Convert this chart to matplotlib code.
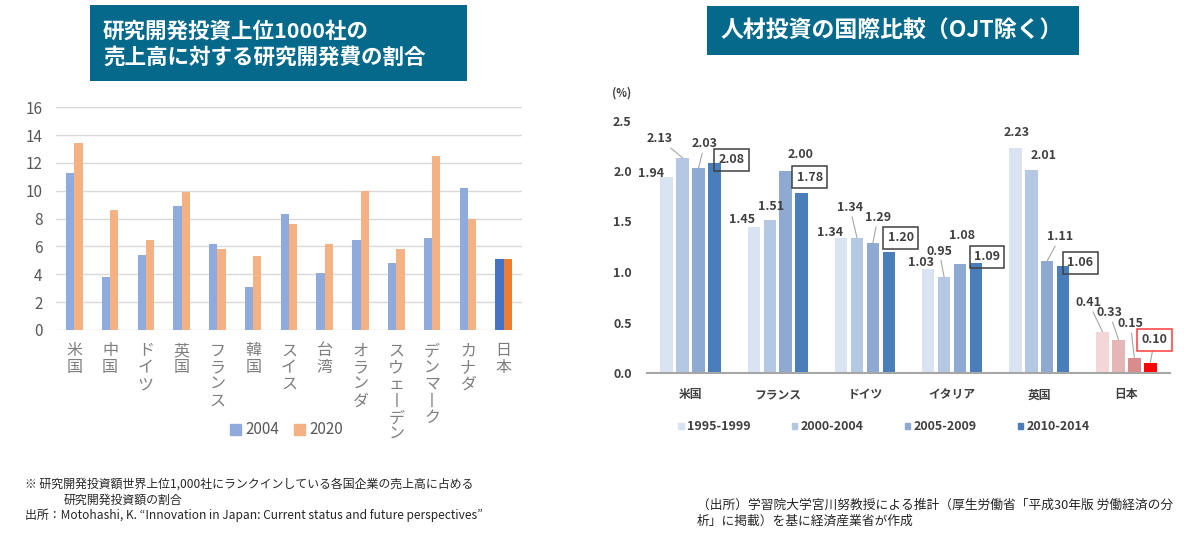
import numpy as np
import matplotlib.pyplot as plt
from matplotlib.patches import Rectangle, Patch

plt.rcParams['font.family'] = ['Noto Sans CJK JP', 'DejaVu Sans']

# left chart data
rd_countries = ['米国', '中国', 'ドイツ', '英国', 'フランス', '韓国', 'スイス', '台湾',
                'オランダ', 'スウェーデン', 'デンマーク', 'カナダ', '日本']
rd_2004 = [11.3, 3.8, 5.4, 8.9, 6.2, 3.1, 8.3, 4.1, 6.5, 4.8, 6.6, 10.2, 5.1]
rd_2020 = [13.4, 8.6, 6.5, 9.9, 5.8, 5.3, 7.6, 6.2, 10.0, 5.8, 12.5, 8.0, 5.1]
rd_years = ['2004', '2020']

# right chart data
hr_countries = ['米国', 'フランス', 'ドイツ', 'イタリア', '英国', '日本']
hr_periods = ['1995-1999', '2000-2004', '2005-2009', '2010-2014']
hr_values = [
    [1.94, 1.45, 1.34, 1.03, 2.23, 0.41],
    [2.13, 1.51, 1.34, 0.95, 2.01, 0.33],
    [2.03, 2.00, 1.29, 1.08, 1.11, 0.15],
    [2.08, 1.78, 1.20, 1.09, 1.06, 0.10],
]

W, H = 1200, 536
fig = plt.figure(figsize=(12, 5.36), dpi=100)

def fx(px):
    return px / W

def fy(py):
    return 1 - py / H

TEAL = '#05698C'
# title boxes
fig.patches.append(Rectangle((fx(90), fy(80.5)), fx(377), 75 / H, transform=fig.transFigure,
                             fc=TEAL, ec='none', zorder=0))
fig.text(fx(103), fy(31), '研究開発投資上位1000社の', color='white', fontsize=15.5,
         fontweight='bold', va='center', ha='left')
fig.text(fx(103), fy(57), '売上高に対する研究開発費の割合', color='white', fontsize=15.5,
         fontweight='bold', va='center', ha='left')
fig.patches.append(Rectangle((fx(707), fy(55)), fx(372), 48.5 / H, transform=fig.transFigure,
                             fc=TEAL, ec='none', zorder=0))
fig.text(fx(720), fy(31), '人材投資の国際比較（OJT除く）', color='white', fontsize=16.5,
         fontweight='bold', va='center', ha='left')

# ---- left chart ----
ax1 = fig.add_axes([fx(56.4), fy(330), fx(521.5 - 56.4), (330 - 107.3) / H])
x = np.arange(len(rd_countries))
bw = 0.23
c04 = ['#8FAADC'] * 12 + ['#4472C4']
c20 = ['#F4B183'] * 12 + ['#ED7D31']
ax1.bar(x - bw / 2, rd_2004, bw, color=c04, zorder=2)
ax1.bar(x + bw / 2, rd_2020, bw, color=c20, zorder=2)
ax1.set_xlim(-0.5, len(rd_countries) - 0.5)
ax1.set_ylim(0, 16)
ax1.set_yticks(range(0, 17, 2))
ax1.yaxis.grid(True, color='#D9D9D9', lw=1, zorder=0)
ax1.set_axisbelow(True)
for s in ax1.spines.values():
    s.set_visible(False)
ax1.tick_params(axis='y', length=0, labelsize=11, labelcolor='#595959', pad=10)
# vertical writing: long vowel mark becomes a vertical stroke
vert = ['\n'.join('丨' if ch == 'ー' else ch for ch in name) for name in rd_countries]
ax1.set_xticks(x)
ax1.set_xticklabels(vert, fontsize=11.5, color='#7F7F7F', linespacing=0.98, va='top')
ax1.tick_params(axis='x', length=0, pad=9)
ax1.legend(handles=[Patch(color='#8FAADC'), Patch(color='#F4B183')], labels=rd_years,
           loc='center left', bbox_to_anchor=(fx(230), fy(430)), bbox_transform=fig.transFigure,
           ncol=2, frameon=False, fontsize=11, labelcolor='#595959', handlelength=0.7,
           handleheight=0.7, handletextpad=0.3, columnspacing=1.0, borderaxespad=0, borderpad=0)

fig.text(fx(25), fy(484), '※ 研究開発投資額世界上位1,000社にランクインしている各国企業の売上高に占める',
         fontsize=8.6, color='#262626', va='center')
fig.text(fx(64), fy(500), '研究開発投資額の割合', fontsize=8.6, color='#262626', va='center')
fig.text(fx(25), fy(515),
         '出所：Motohashi, K. \u201cInnovation in Japan: Current status and future perspectives\u201d',
         fontsize=8.6, color='#262626', va='center')

# ---- right chart ----
ax2 = fig.add_axes([fx(647), fy(373), fx(1170 - 647), (373 - 120.5) / H])
blues = ['#DAE3F1', '#B4C7E3', '#8FAAD2', '#4A7EBB']
reds = ['#F3D6D6', '#E6B5B5', '#D98C8C', '#FF0000']
xs = np.arange(len(hr_countries))
step = 0.183
width = 0.143
# label offsets in pixels (dx, dy) from bar top; boxed and leader-line flags
offs = [
    [(-16, 4), (-12, 7), (-11, 5), (-7, 6), (1, 15), (-14, 29)],
    [(-23, 19), (1, 14), (-7, 30), (-5, 26), (12, 14), (-9, 27)],
    [(6, 24), (15, 16), (5, 25), (2, 28), (13, 24), (-4, 34)],
    [(17, 3), (8, 16), (12, 14), (11, 6), (17, 3), (4, 23)],
]
leader = [
    [False, False, False, False, False, True],
    [True, False, True, True, False, True],
    [True, False, True, False, True, True],
    [False, False, False, False, False, True],
]
for i, vals in enumerate(hr_values):
    cols = [blues[i]] * 5 + [reds[i]]
    pos = xs + (i - 1.5) * step
    ax2.bar(pos, vals, width, color=cols, zorder=2)
    for j, v in enumerate(vals):
        dx, dy = offs[i][j]
        kw = {}
        if i == 3:
            ec = '#FF3B3B' if j == 5 else '#404040'
            kw['bbox'] = dict(boxstyle='square,pad=0.35', fc='none', ec=ec, lw=1.1)
        if leader[i][j]:
            kw['arrowprops'] = dict(arrowstyle='-', color='#A6A6A6', lw=0.8, shrinkA=0, shrinkB=0)
        ax2.annotate(f'{v:.2f}', (pos[j], v), xytext=(dx * 0.72, dy * 0.72),
                     textcoords='offset points', ha='center', va='center', fontsize=9,
                     fontweight='bold', color='#404040', zorder=3, **kw)

ax2.set_xlim(-0.5, len(hr_countries) - 0.5)
ax2.set_ylim(0, 2.5)
ax2.set_yticks([0, 0.5, 1.0, 1.5, 2.0, 2.5])
ax2.set_yticklabels(['0.0', '0.5', '1.0', '1.5', '2.0', '2.5'])
for k in ['top', 'right', 'left']:
    ax2.spines[k].set_visible(False)
ax2.spines['bottom'].set_color('#A6A6A6')
ax2.spines['bottom'].set_linewidth(1.5)
ax2.tick_params(axis='y', length=0, labelsize=9, labelcolor='#404040', pad=11)
for t in ax2.get_yticklabels():
    t.set_fontweight('bold')
ax2.set_xticks(xs)
ax2.set_xticklabels(hr_countries, fontsize=8.5, fontweight='bold', color='#404040')
ax2.tick_params(axis='x', length=0, pad=11)
fig.text(fx(622), fy(93), '(%)', fontsize=8, fontweight='bold', color='#404040',
         ha='center', va='center')

ax2.legend(handles=[Patch(color=c) for c in blues], labels=hr_periods,
           loc='center left', bbox_to_anchor=(fx(678), fy(427)), bbox_transform=fig.transFigure,
           ncol=4, frameon=False, fontsize=9, handlelength=0.45, handleheight=0.45,
           handletextpad=0.25, columnspacing=3.3, borderaxespad=0, borderpad=0,
           prop={'weight': 'bold', 'size': 9}, labelcolor='#404040')

fig.text(fx(697), fy(505), '（出所）学習院大学宮川努教授による推計（厚生労働省「平成30年版 労働経済の分',
         fontsize=9.2, color='#262626', va='center')
fig.text(fx(697), fy(521), '析」に掲載）を基に経済産業省が作成', fontsize=9.2, color='#262626',
         va='center')

fig.savefig('out.png', dpi=100)
